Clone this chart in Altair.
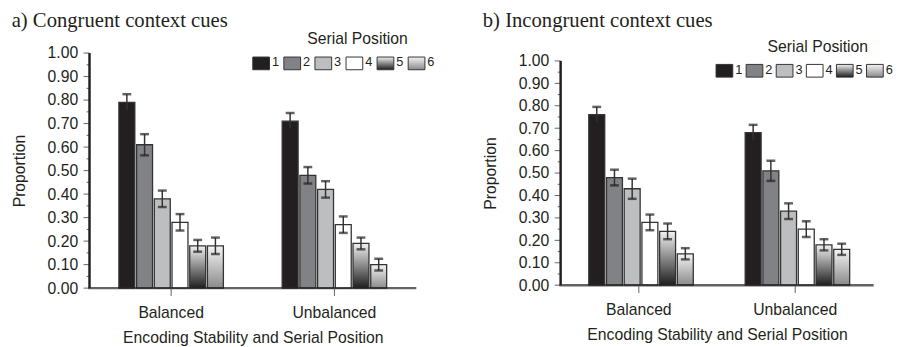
import altair as alt
import pandas as pd

conditions = ["Balanced", "Unbalanced"]
positions = ["1", "2", "3", "4", "5", "6"]

# Panel a) Congruent context cues
a_balanced = [0.79, 0.61, 0.38, 0.28, 0.18, 0.18]
a_unbalanced = [0.71, 0.48, 0.42, 0.27, 0.19, 0.10]
a_balanced_err = [0.035, 0.045, 0.035, 0.035, 0.025, 0.035]
a_unbalanced_err = [0.035, 0.035, 0.035, 0.035, 0.025, 0.025]

# Panel b) Incongruent context cues
b_balanced = [0.76, 0.48, 0.43, 0.28, 0.24, 0.14]
b_unbalanced = [0.68, 0.51, 0.33, 0.25, 0.18, 0.16]
b_balanced_err = [0.035, 0.035, 0.045, 0.035, 0.035, 0.025]
b_unbalanced_err = [0.035, 0.045, 0.035, 0.035, 0.025, 0.025]

y_major = [round(i * 0.1, 1) for i in range(11)]
y_minor = [round(0.05 + i * 0.1, 2) for i in range(10)]

INK = "#231f20"
SANS = "Liberation Sans"
SERIF = "Liberation Serif"
M = 8  # inner margin that holds the drawn axis lines

grad5 = {"gradient": "linear", "x1": 0, "y1": 0, "x2": 0, "y2": 1,
         "stops": [{"offset": 0, "color": "#f2f2f2"}, {"offset": 1, "color": "#1e1e1e"}]}
grad6 = {"gradient": "linear", "x1": 0, "y1": 0, "x2": 0, "y2": 1,
         "stops": [{"offset": 0, "color": "#f4f4f4"}, {"offset": 1, "color": "#8a8a8a"}]}


def fill_enc():
    return alt.Fill(
        "pos:N",
        scale=alt.Scale(domain=positions,
                        range=[INK, "#808285", "#bcbec0", "#ffffff", "#777777", "#c8c8c8"]),
        legend=None,
        condition=[{"test": "datum.pos === '5'", "value": grad5},
                   {"test": "datum.pos === '6'", "value": grad6}],
    )


def panel(title, bal, unb, bal_err, unb_err, pw, ph, ytop,
          leg_range, leg_y, leg_title_x, leg_title_y, title_offset):
    rows = []
    for cond, vals, errs in [("Balanced", bal, bal_err), ("Unbalanced", unb, unb_err)]:
        for p, v, e in zip(positions, vals, errs):
            rows.append({"cond": cond, "pos": p, "val": v, "lo": v - e, "hi": v + e})
    df = pd.DataFrame(rows)

    width = pw + M
    height = ph + 10

    xaxis = alt.Axis(title="Encoding Stability and Serial Position", labelAngle=0,
                     domain=False, ticks=False,
                     labelFont=SANS, labelFontSize=16, labelColor=INK, labelPadding=7,
                     titleFont=SANS, titleFontSize=16, titleFontWeight="normal",
                     titleColor=INK, titlePadding=9)
    x = alt.X("cond:N",
              scale=alt.Scale(domain=conditions, range=[M, width],
                              paddingInner=0.36, paddingOuter=0.18),
              axis=xaxis)
    xoff = alt.XOffset("pos:N", scale=alt.Scale(domain=positions, paddingInner=0.1, paddingOuter=0))
    yscale = alt.Scale(domain=[0, 1], range=[ph, ytop], nice=False)
    yaxis = alt.Axis(title="Proportion", values=y_major, format=".2f",
                     labelOverlap=False, labelFlush=False, grid=False,
                     domain=False, ticks=False,
                     labelFont=SANS, labelFontSize=16, labelColor=INK, labelPadding=4,
                     titleFont=SANS, titleFontSize=16, titleFontWeight="normal",
                     titleColor=INK, titlePadding=20)

    base = alt.Chart(df)
    bars = base.mark_bar(stroke="#333333", strokeWidth=1.3).encode(
        x=x, xOffset=xoff, y=alt.Y("val:Q", scale=yscale, axis=yaxis), fill=fill_enc())
    stems = base.mark_rule(color="#333333", strokeWidth=1.5).encode(
        x=x, xOffset=xoff, y=alt.Y("lo:Q", scale=yscale, axis=yaxis), y2="hi:Q")
    cap_hi = base.mark_tick(color=INK, thickness=2.5, size=9).encode(
        x=x, xOffset=xoff, y=alt.Y("hi:Q", scale=yscale, axis=yaxis))
    cap_lo = base.mark_tick(color=INK, thickness=2.5, size=9).encode(
        x=x, xOffset=xoff, y=alt.Y("lo:Q", scale=yscale, axis=yaxis))

    # axis line and ticks drawn inside the view through the scales
    major = alt.Chart(pd.DataFrame({"v": y_major})).mark_tick(
        color=INK, orient="horizontal", size=6, thickness=1, clip=False).encode(
        y=alt.Y("v:Q", scale=yscale, axis=yaxis), x=alt.value(M - 3))
    minor = alt.Chart(pd.DataFrame({"v": y_minor})).mark_tick(
        color=INK, orient="horizontal", size=3, thickness=1, clip=False).encode(
        y=alt.Y("v:Q", scale=yscale, axis=yaxis), x=alt.value(M - 1.5))
    ydom = alt.Chart(pd.DataFrame({"v0": [0.0], "v1": [1.0]})).mark_rect(color=INK, clip=False).encode(
        y=alt.Y("v0:Q", scale=yscale, axis=yaxis), y2="v1:Q",
        x=alt.value(M - 1.25), x2=alt.value(M + 1.25))
    xdom = alt.Chart(pd.DataFrame({"v": [0.0]})).mark_tick(
        color=INK, orient="horizontal", size=pw + 1.5, thickness=2.5, clip=False).encode(
        y=alt.Y("v:Q", scale=yscale, axis=yaxis), x=alt.value(M + pw / 2 - 0.5))
    xticks = alt.Chart(pd.DataFrame({"cond": conditions})).mark_tick(
        color=INK, orient="vertical", size=7, thickness=1, clip=False).encode(
        x=x, y=alt.value(ph + 4.5))

    plot = alt.layer(bars, stems, cap_hi, cap_lo, major, minor, ydom, xdom, xticks)

    leg_df = pd.DataFrame({"pos": positions, "li": list(range(6))})
    lx = alt.X("li:Q", scale=alt.Scale(domain=[0, 5], range=leg_range), axis=None)
    swatch = alt.Chart(leg_df).mark_point(
        shape="M-1,-0.76L1,-0.76L1,0.76L-1,0.76Z", size=289, filled=True,
        stroke="#333333", strokeWidth=1, opacity=1).encode(
        x=lx, y=alt.value(leg_y), fill=fill_enc())
    labels = alt.Chart(leg_df).mark_text(
        align="left", baseline="middle", dx=11, dy=-1, font=SANS, fontSize=13, color=INK).encode(
        x=lx, y=alt.value(leg_y), text="pos:N")
    leg_title = alt.Chart(pd.DataFrame({"t": ["Serial Position"]})).mark_text(
        align="center", baseline="middle", font=SANS, fontSize=16, color=INK).encode(
        x=alt.value(leg_title_x), y=alt.value(leg_title_y), text="t:N")
    legend = alt.layer(swatch, labels, leg_title)

    return alt.layer(plot, legend).resolve_scale(x="independent").properties(
        width=width, height=height,
        title=alt.TitleParams(title, anchor="start", frame="bounds", font=SERIF, fontSize=21,
                              fontWeight="normal", color=INK, offset=title_offset))


pa = panel("a) Congruent context cues", a_balanced, a_unbalanced, a_balanced_err, a_unbalanced_err,
           332, 239, 0, [182.5, 340.5], 10.5, 280.5, -14, 0)
pb = panel("b) Incongruent context cues", b_balanced, b_unbalanced, b_balanced_err, b_unbalanced_err,
           318, 236, 8, [174.5, 327.5], 18, 269.5, -6, 8)

chart = alt.hconcat(pa, pb, spacing=48).properties(
    padding={"left": 11, "top": 8, "right": 5, "bottom": 5}
).configure_view(stroke=None)

chart.save("out.html", embed_options={"renderer": "svg", "actions": False})
